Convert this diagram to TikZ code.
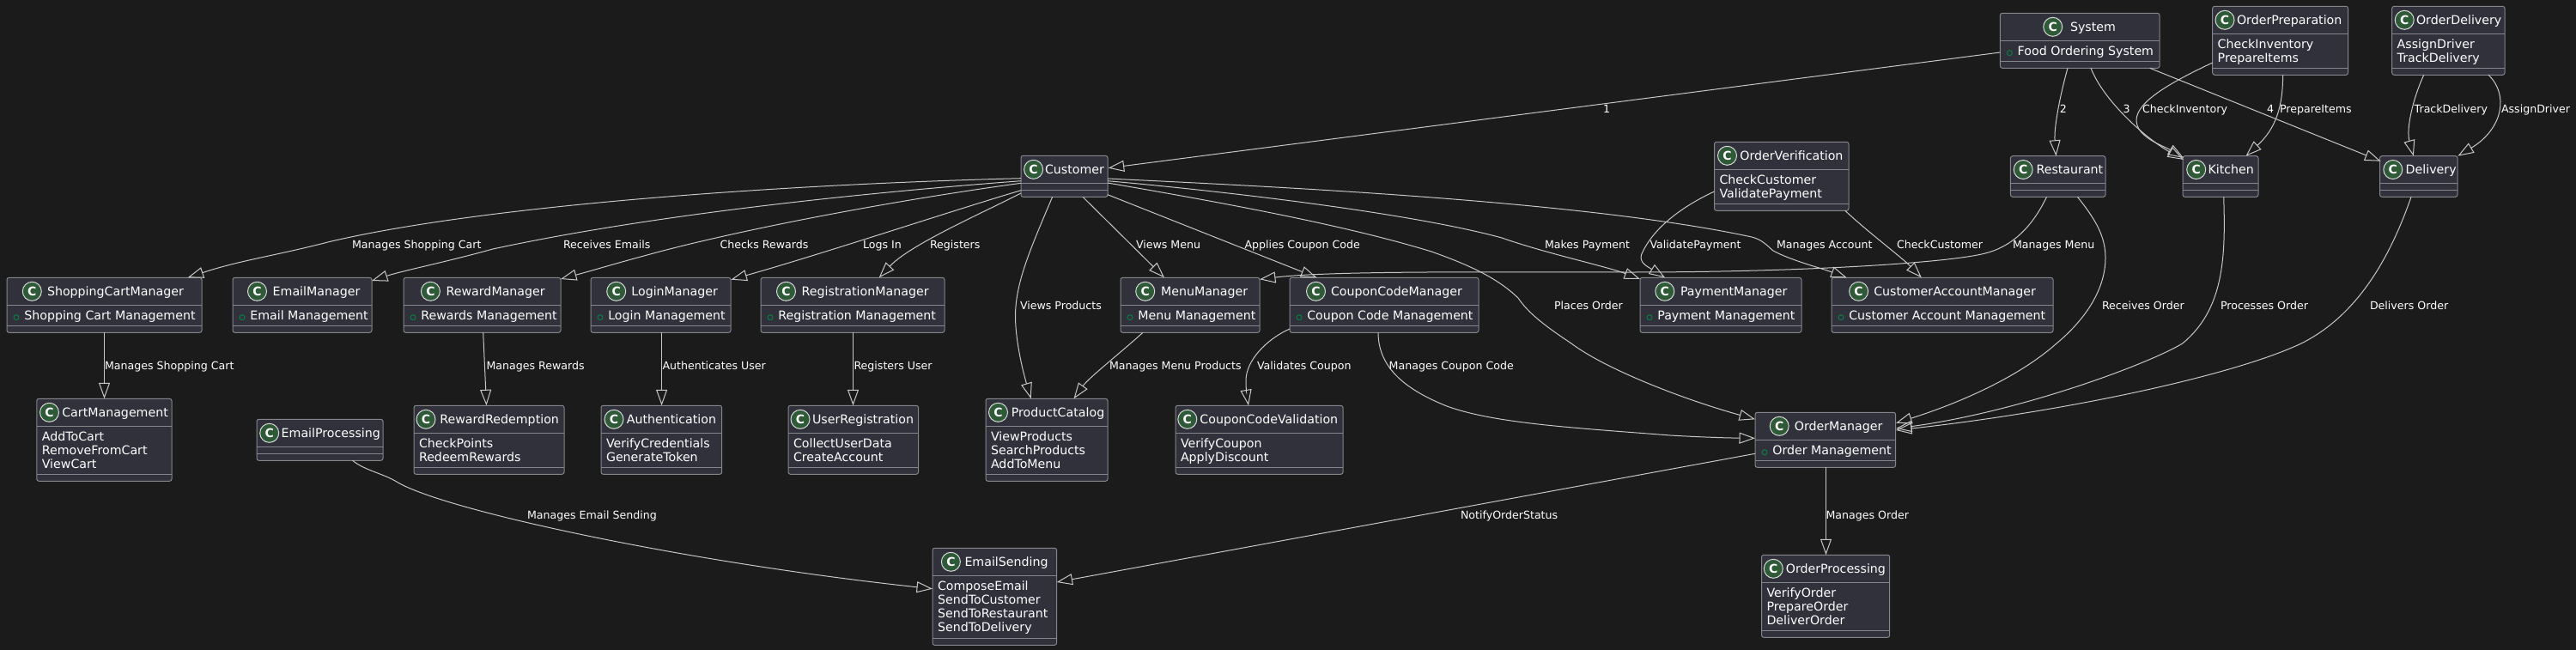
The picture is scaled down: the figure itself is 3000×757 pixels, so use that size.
\documentclass[tikz,border=0pt]{standalone}
\usepackage{fontspec}
\setmainfont{DejaVu Sans}
\usetikzlibrary{arrows.meta}
\definecolor{bgc}{HTML}{1B1B1B}
\definecolor{boxf}{HTML}{30313B}
\definecolor{boxl}{HTML}{85858C}
\definecolor{linkc}{HTML}{C8C8C8}
\definecolor{txtc}{HTML}{FFFFFF}
\definecolor{iconf}{HTML}{2E5A38}
\definecolor{iconl}{HTML}{D8D8D8}
\definecolor{fieldc}{HTML}{0C7A45}
\tikzset{
  classbox/.style={draw=boxl,fill=boxf,line width=1pt,rectangle,rounded corners=2.5pt,inner sep=0pt,outer sep=0pt},
  sepl/.style={draw=boxl,line width=1pt},
  iconc/.style={circle,draw=iconl,fill=iconf,line width=1pt,minimum size=22pt,inner sep=0pt,text=white,font=\fontsize{14}{16}\selectfont\bfseries},
  ttl/.style={anchor=base west,inner sep=0pt,outer sep=0pt,text=txtc,font=\fontsize{14.2}{16}\selectfont},
  lbl/.style={anchor=base west,inner sep=0pt,outer sep=0pt,text=txtc,font=\fontsize{12.6}{15}\selectfont},
  fieldmark/.style={draw=fieldc,line width=1pt},
  rel/.style={draw=linkc,line width=1pt,-{Triangle[open,length=18.5pt,width=13pt]}},
}
% class box: name, x1, y1, x2, y2, sep1, sep2, icon x, title x
\newcommand{\cls}[9]{%
  \pgfmathsetmacro{\wid}{#4-#2}\pgfmathsetmacro{\hei}{#5-#3}%
  \pgfmathsetmacro{\cxx}{(#2+#4)/2}\pgfmathsetmacro{\cyy}{(#3+#5)/2}%
  \pgfmathsetmacro{\hcy}{(#3+#6)/2}%
  \def\curr{#1}\def\xa{#2}\def\sa{#6}%
  \node[classbox,minimum width=\wid pt,minimum height=\hei pt] (#1) at (\cxx,\cyy) {};
  \draw[sepl] (#1.west |- 0,#6) -- (#1.east |- 0,#6);
  \draw[sepl] (#1.west |- 0,#7) -- (#1.east |- 0,#7);
  \node[iconc] (#1Icon) at (#8,\hcy) {C};
  \node[ttl] (#1Title) at (#9,\hcy+5.2) {#1};
}
\newcommand{\methods}[1]{%
  \foreach \t [count=\i] in {#1} {
    \node[ttl] (\curr Member\i) at (\xa+6,\sa+17+16*\i-16) {\t};
  }
}
\newcommand{\fieldm}[1]{%
  \draw[fieldmark] (\xa+11,\sa+14.4) circle (3pt);
  \node[ttl] (\curr Field) at (\xa+20.3,\sa+17) {#1};
}
\begin{document}
\begin{tikzpicture}[x=1pt,y=-1pt]
\useasboundingbox (0,0) rectangle (3000,757);
\fill[bgc] (0,0) rectangle (3000,757);

% ---- classes ----
\cls{ShoppingCartManager}{8}{323.3}{235}{387.3}{355.3}{379.3}{37.3}{55}
\fieldm{Shopping Cart Management}
\cls{EmailManager}{271}{323.3}{433}{387.3}{355.3}{379.3}{299.5}{317.7}
\fieldm{Email Management}
\cls{RewardManager}{470}{323.3}{653}{387.3}{355.3}{379.3}{501.4}{519.6}
\fieldm{Rewards Management}
\cls{LoginManager}{688}{323.3}{851}{387.3}{355.3}{379.3}{717.7}{735.4}
\fieldm{Login Management}
\cls{RegistrationManager}{886}{323.3}{1100}{387.3}{355.3}{379.3}{915.5}{933.7}
\fieldm{Registration Management}
\cls{MenuManager}{1305}{323.3}{1467}{387.3}{355.3}{379.3}{1333.7}{1352}
\fieldm{Menu Management}
\cls{Customer}{1189}{181.3}{1290}{229.3}{213.3}{221.3}{1203.6}{1217}
\cls{CouponCodeManager}{1502}{323.3}{1722}{387.3}{355.3}{379.3}{1532.5}{1550}
\fieldm{Coupon Code Management}
\cls{PaymentManager}{1910}{323.3}{2098}{387.3}{355.3}{379.3}{1938.8}{1957}
\fieldm{Payment Management}
\cls{CustomerAccountManager}{2133}{323.3}{2391}{387.3}{355.3}{379.3}{2164.6}{2182.3}
\fieldm{Customer Account Management}
\cls{OrderVerification}{1996.5}{165.3}{2153}{245.3}{197.3}{237.3}{2011.5}{2026.3}
\methods{CheckCustomer,ValidatePayment}
\cls{System}{2329.4}{15.3}{2515}{79.3}{47.3}{71.3}{2390.7}{2411}
\fieldm{Food Ordering System}
\cls{OrderPreparation}{2576.7}{7.3}{2734.5}{87.3}{39.3}{79.3}{2591}{2605}
\methods{CheckInventory,PrepareItems}
\cls{OrderDelivery}{2785.7}{7.3}{2917}{87.3}{39.3}{79.3}{2800.2}{2814}
\methods{AssignDriver,TrackDelivery}
\cls{Restaurant}{2341.4}{181.7}{2452}{229.3}{213.3}{221.3}{2356.2}{2371.5}
\cls{Kitchen}{2542}{181.7}{2630}{229.3}{213.3}{221.3}{2557.7}{2571.5}
\cls{Delivery}{2771.5}{181.7}{2862}{229.3}{213.3}{221.3}{2786.8}{2801.7}
\cls{CartManagement}{42.8}{464.3}{200}{560.3}{496.3}{552.3}{57.5}{72.3}
\methods{AddToCart,RemoveFromCart,ViewCart}
\cls{EmailProcessing}{299}{488.3}{446}{536.3}{520.3}{528.3}{313.7}{327.7}
\cls{RewardRedemption}{482}{472.3}{657}{552.3}{504.3}{544.3}{496}{512.3}
\methods{CheckPoints,RedeemRewards}
\cls{Authentication}{700}{472.3}{840.7}{552.3}{504.3}{544.3}{715}{729.8}
\methods{VerifyCredentials,GenerateToken}
\cls{UserRegistration}{918}{472.3}{1069.5}{552.3}{504.3}{544.3}{932}{946}
\methods{CollectUserData,CreateAccount}
\cls{EmailSending}{1086}{638.3}{1230.6}{751.3}{670.3}{743.3}{1107.4}{1123.5}
\methods{ComposeEmail,SendToCustomer,SendToRestaurant,SendToDelivery}
\cls{ProductCatalog}{1148}{464.3}{1290}{560.3}{496.3}{552.3}{1162.5}{1177.8}
\methods{ViewProducts,SearchProducts,AddToMenu}
\cls{CouponCodeValidation}{1369}{472.3}{1564}{552.3}{504.3}{544.3}{1382.8}{1397.4}
\methods{VerifyCoupon,ApplyDiscount}
\cls{OrderManager}{2044}{480.3}{2207.6}{544.3}{512.3}{536.3}{2072.2}{2089.8}
\fieldm{Order Management}
\cls{OrderProcessing}{2051.5}{646.3}{2200.7}{742.3}{678.3}{734.3}{2065.3}{2079.8}
\methods{VerifyOrder,PrepareOrder,DeliverOrder}

% ---- connectors ----
\draw[rel] ([shift={(0,45.7)}]System.north west) -- ([shift={(101.7,14.4)}]Customer.north west);
\draw[rel] ([shift={(78.6,64)}]System.north west) .. controls (2398,115) and (2392,150) .. ([shift={(53.1,0)}]Restaurant.north west);
\draw[rel] ([shift={(105.6,64)}]System.north west) .. controls (2450,118) and (2500,162) .. ([shift={(1,4.3)}]Kitchen.north west);
\draw[rel] ([shift={(174.2,64)}]System.north west) -- ([shift={(1,6)}]Delivery.north west);
\draw[rel] ([shift={(0,65.7)}]OrderPreparation.north west) .. controls (2530,95) and (2488,118) .. (2488,140) .. controls (2488,160) and (2520,170) .. ([shift={(1,2.3)}]Kitchen.north west);
\draw[rel] ([shift={(81.9,80)}]OrderPreparation.north west) .. controls (2658.6,125) and (2650,150) .. ([shift={(73.5,0)}]Kitchen.north west);
\draw[rel] ([shift={(37,80)}]OrderDelivery.north west) .. controls (2810,115) and (2802,150) .. ([shift={(39.3,0)}]Delivery.north west);
\draw[rel] ([shift={(112.3,80)}]OrderDelivery.north west) .. controls (2922,110) and (2915,150) .. ([shift={(90.9,0)}]Delivery.north west);
\draw[rel] ([shift={(42.1,47.6)}]Restaurant.north west) .. controls (2365,268) and (2340,288) .. (2312,295) .. controls (2270,306) and (2100,317) .. (1900,317) .. controls (1750,317) and (1550,315) .. ([shift={(162,2)}]MenuManager.north west);
\draw[rel] ([shift={(78,47.6)}]Restaurant.north west) .. controls (2440,255) and (2452,275) .. (2452,300) .. controls (2452,340) and (2425,375) .. (2395,400) .. controls (2350,440) and (2280,470) .. ([shift={(164,12.4)}]OrderManager.north west);
\draw[rel] ([shift={(47.7,47.6)}]Kitchen.north west) .. controls (2592,300) and (2590,360) .. (2541.7,400) .. controls (2500,425) and (2350,480) .. ([shift={(164,18.7)}]OrderManager.north west);
\draw[rel] ([shift={(36.5,47.6)}]Delivery.north west) .. controls (2780,310) and (2740,370) .. (2680,400) .. controls (2600,438) and (2400,480) .. ([shift={(164,20.7)}]OrderManager.north west);
\draw[rel] ([shift={(101,26.7)}]Customer.north west) .. controls (1500,218) and (1850,235) .. (2040,276) .. controls (2052,279) and (2058,286) .. (2065,292) .. controls (2085,303) and (2120,312) .. ([shift={(17.7,0)}]CustomerAccountManager.north west);
\draw[rel] ([shift={(101,29.4)}]Customer.north west) .. controls (1450,225) and (1650,250) .. (1749,277) .. controls (1800,295) and (1870,310) .. ([shift={(0,1.7)}]PaymentManager.north west);
\draw[rel] ([shift={(101,31.7)}]Customer.north west) .. controls (1400,232) and (1560,260) .. (1667,293) .. controls (1715,310) and (1745,325) .. (1768,347) .. controls (1780,365) and (1800,380) .. (1830,400) .. controls (1870,430) and (1960,465) .. ([shift={(0,8)}]OrderManager.north west);
\draw[rel] ([shift={(101,45.4)}]Customer.north west) -- ([shift={(31.5,0)}]CouponCodeManager.north west);
\draw[rel] ([shift={(72,48)}]Customer.north west) -- ([shift={(51,0)}]MenuManager.north west);
\draw[rel] ([shift={(36.6,48)}]Customer.north west) .. controls (1200,290) and (1182,330) .. (1182.5,370) .. controls (1183,400) and (1192,435) .. ([shift={(52.7,0)}]ProductCatalog.north west);
\draw[rel] ([shift={(0,26.4)}]Customer.north west) .. controls (900,215) and (560,240) .. (383,281.7) .. controls (320,298) and (280,303) .. ([shift={(210.6,0)}]ShoppingCartManager.north west);
\draw[rel] ([shift={(0,29.4)}]Customer.north west) .. controls (1000,225) and (760,250) .. (574,290) .. controls (520,305) and (470,315) .. ([shift={(162,3.7)}]EmailManager.north west);
\draw[rel] ([shift={(0,32)}]Customer.north west) .. controls (1030,235) and (850,270) .. (750,298) .. controls (720,306) and (690,315) .. ([shift={(183,1.7)}]RewardManager.north west);
\draw[rel] ([shift={(0,40.4)}]Customer.north west) .. controls (1110,245) and (960,295) .. ([shift={(163.4,2.4)}]LoginManager.north west);
\draw[rel] ([shift={(0,43.7)}]Customer.north west) .. controls (1140,250) and (1060,285) .. ([shift={(137.7,0)}]RegistrationManager.north west);
\draw[rel] ([shift={(113.5,64)}]ShoppingCartManager.north west) -- ([shift={(78.7,0)}]CartManagement.north west);
\draw[rel] ([shift={(92.7,64)}]RewardManager.north west) -- ([shift={(84.5,0)}]RewardRedemption.north west);
\draw[rel] ([shift={(82.6,64)}]LoginManager.north west) -- ([shift={(70.6,0)}]Authentication.north west);
\draw[rel] ([shift={(107.5,64)}]RegistrationManager.north west) -- ([shift={(75.5,0)}]UserRegistration.north west);
\draw[rel] ([shift={(26,64)}]MenuManager.north west) .. controls (1300,415) and (1268,440) .. ([shift={(102.5,0)}]ProductCatalog.north west);
\draw[rel] ([shift={(0,59.7)}]CouponCodeManager.north west) .. controls (1475,395) and (1451,420) .. (1451,443) .. controls (1451,452) and (1452,460) .. ([shift={(85,0)}]CouponCodeValidation.north west);
\draw[rel] ([shift={(103,64)}]CouponCodeManager.north west) .. controls (1605,430) and (1640,455) .. (1685,473) .. controls (1740,493) and (1830,498) .. (1945,507) .. controls (1980,509) and (2010,510) .. ([shift={(0,30)}]OrderManager.north west);
\draw[rel] ([shift={(0,48)}]OrderManager.north west) -- ([shift={(144.6,39.7)}]EmailSending.north west);
\draw[rel] ([shift={(82.5,64)}]OrderManager.north west) -- ([shift={(75,0)}]OrderProcessing.north west);
\draw[rel] ([shift={(111.5,48)}]EmailProcessing.north west) .. controls (425,548) and (448,552) .. (463,561.7) .. controls (520,595) and (800,655) .. ([shift={(0,47.4)}]EmailSending.north west);
\draw[rel] ([shift={(0,57.7)}]OrderVerification.north west) .. controls (1960,240) and (1925,265) .. (1911.5,296.7) .. controls (1909,306) and (1918,310) .. ([shift={(29,0)}]PaymentManager.north west);
\draw[rel] ([shift={(152.3,80)}]OrderVerification.north west) .. controls (2175,270) and (2215,300) .. ([shift={(104.8,0)}]CustomerAccountManager.north west);

% ---- labels ----
\node[lbl] (l01) at (1867,131.5) {1};
\node[lbl] (l02) at (2398.8,131.5) {2};
\node[lbl] (l03) at (2472.5,131.5) {3};
\node[lbl] (l04) at (2640,131.5) {4};
\node[lbl] (l05) at (2495,131.5) {CheckInventory};
\node[lbl] (l06) at (2655,131.5) {PrepareItems};
\node[lbl] (l07) at (2811.7,131.5) {TrackDelivery};
\node[lbl] (l08) at (2913,131.5) {AssignDriver};
\node[lbl] (l09) at (410,289.5) {Manages Shopping Cart};
\node[lbl] (l10) at (656,289.5) {Receives Emails};
\node[lbl] (l11) at (838.5,289.5) {Checks Rewards};
\node[lbl] (l12) at (1005,289.5) {Logs In};
\node[lbl] (l13) at (1083,289.5) {Registers};
\node[lbl] (l14) at (1323,289.5) {Views Menu};
\node[lbl] (l15) at (1449.5,289.5) {Applies Coupon Code};
\node[lbl] (l16) at (1799,289.5) {Makes Payment};
\node[lbl] (l17) at (1921.5,289.5) {ValidatePayment};
\node[lbl] (l18) at (2069,289.5) {Manages Account};
\node[lbl] (l19) at (2209,289.5) {CheckCustomer};
\node[lbl] (l20) at (2344,289.5) {Manages Menu};
\node[lbl] (l21) at (1188,360) {Views Products};
\node[lbl] (l22) at (1810,360) {Places Order};
\node[lbl] (l23) at (2448,360) {Receives Order};
\node[lbl] (l24) at (2586,360) {Processes Order};
\node[lbl] (l25) at (2760,360) {Delivers Order};
\node[lbl] (l26) at (122,430) {Manages Shopping Cart};
\node[lbl] (l27) at (566.5,430) {Manages Rewards};
\node[lbl] (l28) at (771.5,430) {Authenticates User};
\node[lbl] (l29) at (994.5,430) {Registers User};
\node[lbl] (l30) at (1292,430) {Manages Menu Products};
\node[lbl] (l31) at (1464,430) {Validates Coupon};
\node[lbl] (l32) at (1617.7,430) {Manages Coupon Code};
\node[lbl] (l33) at (614,604.5) {Manages Email Sending};
\node[lbl] (l34) at (1701,604.5) {NotifyOrderStatus};
\node[lbl] (l35) at (2126.5,604.5) {Manages Order};
\end{tikzpicture}
\end{document}
